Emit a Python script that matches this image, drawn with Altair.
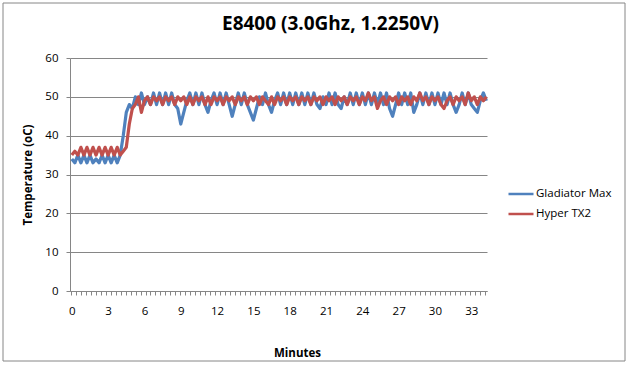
import altair as alt
import pandas as pd
import numpy as np

title_text = "E8400 (3.0Ghz, 1.2250V)"
series_names = ["Gladiator Max", "Hyper TX2"]
series_colors = ["#4F81BD", "#C0504D"]
step_minutes = 0.25

gladiator_max = [
    34, 33, 35, 33, 35, 33, 35, 33, 34, 33, 35, 33, 35, 33, 35, 33, 35,
    40, 46, 48, 47, 50, 48, 51, 48, 50, 48, 51, 48, 51, 48, 51, 48, 51, 48,
    47, 43, 46, 49, 51, 48, 51, 48, 51, 48, 46, 49, 51, 48, 51, 48, 51, 48,
    45, 48, 51, 48, 51, 48, 46, 44, 47, 50, 48, 51, 48, 46, 49, 51, 48, 51,
    48, 51, 48, 51, 48, 51, 48, 51, 48, 51, 48, 47, 50, 48, 51, 48, 51, 48,
    47, 50, 48, 51, 48, 51, 48, 51, 48, 51, 48, 51, 48, 51, 48, 51, 47, 45,
    48, 51, 48, 51, 48, 51, 46, 48, 51, 48, 51, 48, 51, 48, 51, 48, 51, 48,
    51, 48, 46, 48, 51, 48, 51, 48, 47, 46, 49, 51, 49,
]
hyper_tx2 = [
    35, 36, 35, 37, 35, 37, 35, 37, 35, 37, 35, 37, 35, 37, 35, 37, 35, 36,
    37, 43, 47, 48, 50, 46, 49, 50, 48, 50, 49, 50, 48, 50, 49, 50, 48, 50,
    49, 50, 48, 50, 48, 50, 49, 50, 48, 50, 48, 50, 49, 50, 48, 50, 49, 50,
    48, 50, 49, 50, 48, 50, 49, 50, 48, 50, 49, 48, 50, 48, 50, 49, 50, 48,
    50, 49, 50, 48, 50, 49, 50, 48, 50, 49, 50, 48, 50, 49, 50, 48, 50, 49,
    50, 48, 50, 49, 50, 48, 50, 49, 51, 49, 50, 47, 49, 50, 48, 50, 49, 50,
    48, 50, 49, 50, 48, 50, 49, 51, 49, 50, 48, 50, 49, 50, 48, 47, 49, 50,
    48, 50, 49, 50, 48, 51, 49, 50, 48, 50, 49, 50,
]
y_ticks = [0, 10, 20, 30, 40, 50, 60]
x_labels = [0, 3, 6, 9, 12, 15, 18, 21, 24, 27, 30, 33]

rows = []
for name, vals in zip(series_names, [gladiator_max, hyper_tx2]):
    for i, v in enumerate(vals):
        rows.append({"Minutes": i * step_minutes, "Series": name, "Temp": v})
df = pd.DataFrame(rows)

FONT = "Open Sans"
GRAY = "#868686"
W, H = 417, 233
x_scale = alt.Scale(domain=[-0.15, 34.3], nice=False, zero=False)
y_scale = alt.Scale(domain=[0, 60], nice=False)
minor_ticks = [float(v) for v in np.round(np.arange(-0.1, 34.31, 0.4125), 4)]

y_axis = alt.Axis(
    values=y_ticks, tickSize=4, tickColor=GRAY, domainColor=GRAY,
    grid=True, gridColor=GRAY, gridWidth=1,
    labelPadding=8, labelFontSize=11.5, labelFont=FONT, labelColor="#000",
    title="Temperature (oC)", titleFont=FONT, titleFontSize=11.5,
    titleFontWeight="bold", titleColor="#000",
    titleX=-42, titleY=116.5, titleBaseline="middle",
)

lines = alt.Chart(df).mark_line(strokeWidth=3.2, strokeJoin="round").encode(
    x=alt.X(
        "Minutes:Q",
        scale=x_scale,
        axis=alt.Axis(
            orient="bottom", values=x_labels, tickSize=0, domain=False, grid=False,
            labelPadding=14, labelFontSize=11.5, labelFont=FONT, labelColor="#000",
            title="Minutes", titleFont=FONT, titleFontSize=11.5, titleFontWeight="bold",
            titleColor="#000", titleX=227, titleY=65, titleBaseline="alphabetic",
        ),
    ),
    y=alt.Y("Temp:Q", scale=y_scale, axis=y_axis),
    color=alt.Color(
        "Series:N",
        scale=alt.Scale(domain=series_names, range=series_colors),
        legend=alt.Legend(
            title=None, orient="none", legendX=437, legendY=122,
            symbolType="stroke", symbolSize=625, symbolStrokeWidth=2.5,
            labelFont=FONT, labelFontSize=11.5, labelColor="#000",
            rowPadding=0, labelOffset=1,
        ),
    ),
)

tick_layer = alt.Chart(df).mark_line(opacity=0).encode(
    x=alt.X(
        "Minutes:Q",
        scale=x_scale,
        axis=alt.Axis(
            orient="bottom", values=minor_ticks, labels=False, tickSize=4,
            tickColor=GRAY, domain=True, domainColor=GRAY, grid=False, title=None,
        ),
    ),
    y=alt.Y("Temp:Q", scale=y_scale, axis=y_axis),
    detail="Series:N",
)

frame = alt.Chart(pd.DataFrame({"k": [0]})).mark_rect(
    fillOpacity=0, stroke=GRAY, strokeWidth=1
).encode(
    x=alt.value(-67), x2=alt.value(555), y=alt.value(-55), y2=alt.value(303)
)

chart = alt.layer(lines, tick_layer, frame).resolve_axis(x="independent").properties(
    width=W,
    height=H,
    autosize=alt.AutoSizeParams(type="none"),
    padding={"left": 70, "top": 58, "right": 142, "bottom": 74},
    title=alt.TitleParams(
        title_text, font=FONT, fontSize=19, fontWeight="bold", color="#000",
        anchor="middle", dx=52, offset=-31,
    ),
    background="white",
).configure_view(stroke=None)

chart.save("out.html", embed_options={"renderer": "svg", "actions": False})
